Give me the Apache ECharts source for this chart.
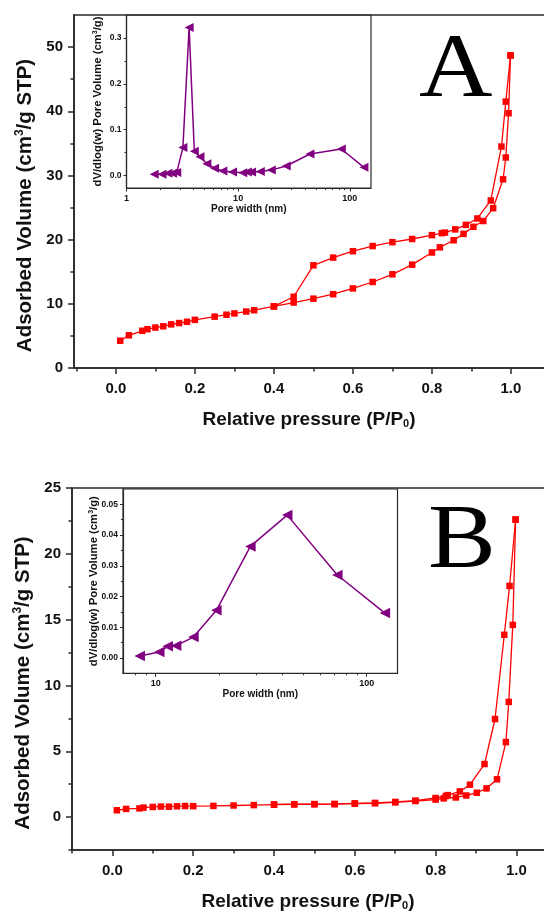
<!DOCTYPE html>
<html><head><meta charset="utf-8">
<script src="https://cdn.jsdelivr.net/npm/echarts@6/dist/echarts.min.js"></script>
<style>html,body{margin:0;padding:0;background:#fff}#c{width:544px;height:915px}</style>
</head><body><div id="c"></div>
<script>
// ---------- Data ----------
// Panel A: N2 isotherm
const pA_ads = [0.011,0.033,0.067,0.08,0.10,0.12,0.14,0.16,0.18,0.20,0.25,0.28,0.30,0.33,0.35,0.40,0.45,0.50,0.55,0.60,0.65,0.70,0.75,0.80,0.82,0.855,0.88,0.905,0.93,0.955,0.98,0.987,0.994,0.999];
const vA_ads = [4.25,5.1,5.8,6.05,6.3,6.5,6.8,7.0,7.2,7.5,8.0,8.3,8.5,8.8,9.0,9.6,10.2,10.8,11.5,12.4,13.4,14.6,16.1,18.0,18.8,19.9,20.9,22.0,22.9,24.9,29.4,32.8,39.7,48.7];
const pA_des = [0.999,0.987,0.976,0.949,0.915,0.886,0.859,0.833,0.825,0.80,0.75,0.70,0.65,0.60,0.55,0.50,0.45,0.40];
const vA_des = [48.7,41.5,34.5,26.1,23.3,22.3,21.6,21.1,21.0,20.7,20.1,19.6,19.0,18.2,17.2,16.0,11.1,9.6];
// Panel A inset: pore size distribution
const wA = [1.77,2.08,2.35,2.58,2.82,3.2,3.64,4.05,4.55,5.25,6.15,7.3,8.9,11.0,12.1,13.2,15.8,19.8,27.0,44.0,84.0,134.0];
const dA = [0.003,0.003,0.005,0.005,0.007,0.061,0.323,0.053,0.041,0.026,0.016,0.010,0.008,0.006,0.008,0.008,0.009,0.012,0.021,0.047,0.058,0.018];
// Panel B: N2 isotherm
const pB_ads = [0.011,0.034,0.067,0.077,0.10,0.12,0.14,0.16,0.18,0.20,0.25,0.30,0.35,0.40,0.45,0.50,0.55,0.60,0.65,0.70,0.75,0.80,0.82,0.85,0.876,0.902,0.926,0.952,0.974,0.981,0.991,0.998];
const vB_ads = [0.52,0.62,0.66,0.72,0.77,0.80,0.79,0.82,0.84,0.83,0.85,0.88,0.91,0.94,0.96,0.97,0.98,1.02,1.05,1.12,1.22,1.33,1.42,1.49,1.64,1.85,2.18,2.87,5.7,8.75,14.6,22.6];
const pB_des = [0.998,0.983,0.970,0.947,0.921,0.885,0.86,0.83,0.825,0.80,0.75,0.70,0.65,0.60,0.55,0.50,0.45,0.40];
const vB_des = [22.6,17.56,13.85,7.45,4.03,2.46,1.95,1.67,1.6,1.45,1.25,1.15,1.08,1.04,1.0,0.99,0.98,0.96];
// Panel B inset: pore size distribution
const wB = [8.4,10.4,11.4,12.5,15.1,19.4,28.1,42.0,72.6,122.0];
const dB = [0.0006,0.0019,0.0038,0.0040,0.0068,0.0155,0.0363,0.0465,0.0270,0.0146];

// ---------- Tick values ----------
const xTickLabels = [0,0.2,0.4,0.6,0.8,1.0];
const xMinorTicks = [-0.1,0.1,0.3,0.5,0.7,0.9,1.1];
const yTicksA = [0,10,20,30,40,50];
const yMinorA = [5,15,25,35,45];
const yTicksB = [0,5,10,15,20,25];
const yMinorB = [-2.5,2.5,7.5,12.5,17.5,22.5];
const yTicksInsetA = [0,0.1,0.2,0.3];
const yMinorInsetA = [0.05,0.15,0.25];
const yTicksInsetB = [0,0.01,0.02,0.03,0.04,0.05];
const yMinorInsetB = [0.005,0.015,0.025,0.035,0.045];
const logMinorA = [2,3,4,5,6,7,8,9,20,30,40,50,60,70,80,90];
const logMinorB = [8,9,20,30,40,50,60,70,80,90];

const FONT = '"Liberation Sans", Arial, Helvetica, sans-serif';
const SERIF = '"Liberation Serif", "Times New Roman", serif';
const AX = '#2a2a2a';
const TXT = '#111';
const RED = '#ff0000';
const PURPLE = '#800080';
const zip = (a,b) => a.map((v,i)=>[v,b[i]]);

function grid(left, top, width, height, bw){
  return {left, top, width, height, show:true, borderColor:AX, borderWidth:bw,
    backgroundColor:'rgba(0,0,0,0)', containLabel:false, outerBoundsMode:'none'};
}

function mainX(gi, min, max){
  return [{
    type:'value', gridIndex:gi, min, max, position:'bottom',
    axisLine:{show:true, onZero:false, lineStyle:{color:AX, width:1.6}},
    axisTick:{show:true, inside:false, length:6, customValues:xTickLabels, lineStyle:{color:AX, width:1.5}},
    axisLabel:{customValues:xTickLabels, formatter:v=>Number(v).toFixed(1), fontFamily:FONT, fontWeight:'bold', fontSize:15, color:TXT, margin:13},
    splitLine:{show:false},
    name:'{a|Relative pressure (P/P}{s|0}{a|)}', nameLocation:'middle', nameGap:42,
    nameTextStyle:{padding:[0,10,0,0], rich:{
      a:{fontFamily:FONT, fontWeight:'bold', fontSize:19, color:TXT, lineHeight:19, verticalAlign:'top'},
      s:{fontFamily:FONT, fontWeight:'bold', fontSize:11, color:TXT, lineHeight:11, padding:[14,0,0,0], verticalAlign:'bottom'}
    }}
  },{
    type:'value', gridIndex:gi, min, max, position:'bottom',
    axisLine:{show:false, onZero:false}, axisLabel:{show:false}, splitLine:{show:false},
    axisTick:{show:true, inside:false, length:3.5, customValues:xMinorTicks, lineStyle:{color:AX, width:1.5}}
  }];
}
function mainY(gi, min, max, ticks, minor){
  return [{
    type:'value', gridIndex:gi, min, max, position:'left',
    axisLine:{show:true, onZero:false, lineStyle:{color:AX, width:1.6}},
    axisTick:{show:true, inside:false, length:6, customValues:ticks, lineStyle:{color:AX, width:1.5}},
    axisLabel:{customValues:ticks, fontFamily:FONT, fontWeight:'bold', fontSize:15, color:TXT, margin:11},
    splitLine:{show:false},
    name:'{a|Adsorbed Volume (cm}{s|3}{a|/g STP)}', nameLocation:'middle', nameGap:36,
    nameTextStyle:{padding:[0,28,0,0], rich:{
      a:{fontFamily:FONT, fontWeight:'bold', fontSize:20.5, color:TXT, lineHeight:22, verticalAlign:'bottom'},
      s:{fontFamily:FONT, fontWeight:'bold', fontSize:12, color:TXT, lineHeight:12, padding:[0,0,10,0], verticalAlign:'bottom'}
    }}
  },{
    type:'value', gridIndex:gi, min, max, position:'left',
    axisLine:{show:false, onZero:false}, axisLabel:{show:false}, splitLine:{show:false},
    axisTick:{show:true, inside:false, length:3.5, customValues:minor, lineStyle:{color:AX, width:1.5}}
  }];
}
function insetX(gi, min, max, minor){
  return [{
    type:'log', logBase:10, gridIndex:gi, min, max, position:'bottom',
    axisLine:{show:true, onZero:false, lineStyle:{color:AX, width:1.2}},
    axisTick:{show:true, inside:false, length:3.5, lineStyle:{color:AX, width:1}},
    axisLabel:{fontFamily:FONT, fontWeight:'bold', fontSize:9, color:TXT, margin:6, showMinLabel: min===1, showMaxLabel:false},
    splitLine:{show:false}, minorTick:{show:false},
    name:'Pore width (nm)', nameLocation:'middle', nameGap:16, nameMoveOverlap:false,
    nameTextStyle:{fontFamily:FONT, fontWeight:'bold', fontSize:10, color:TXT}
  },{
    type:'log', logBase:10, gridIndex:gi, min, max, position:'bottom',
    axisLine:{show:false, onZero:false}, axisLabel:{show:false}, splitLine:{show:false},
    axisTick:{show:true, inside:false, length:2, customValues:minor, lineStyle:{color:AX, width:1}}
  }];
}
function insetY(gi, min, max, ticks, minor, dec, gap){
  return [{
    type:'value', gridIndex:gi, min, max, position:'left',
    axisLine:{show:true, onZero:false, lineStyle:{color:AX, width:1.2}},
    axisTick:{show:true, inside:false, length:3, customValues:ticks, lineStyle:{color:AX, width:1}},
    axisLabel:{customValues:ticks, formatter:v=>Number(v).toFixed(dec), fontFamily:FONT, fontWeight:'bold', fontSize:8.5, color:TXT, margin:5},
    splitLine:{show:false},
    name:'{a|dV/dlog(w) Pore Volume (cm}{s|3}{a|/g)}', nameLocation:'middle', nameGap:gap, nameMoveOverlap:false,
    nameTextStyle:{rich:{
      a:{fontFamily:FONT, fontWeight:'bold', fontSize:11.3, color:TXT, lineHeight:12, verticalAlign:'bottom'},
      s:{fontFamily:FONT, fontWeight:'bold', fontSize:7, color:TXT, lineHeight:7, padding:[0,0,5,0], verticalAlign:'bottom'}
    }}
  },{
    type:'value', gridIndex:gi, min, max, position:'left',
    axisLine:{show:false, onZero:false}, axisLabel:{show:false}, splitLine:{show:false},
    axisTick:{show:true, inside:false, length:2, customValues:minor, lineStyle:{color:AX, width:1}}
  }];
}

const xAxis = [].concat(mainX(0,-0.106,1.109), insetX(1,1,155,logMinorA), mainX(2,-0.1,1.093), insetX(3,7,140,logMinorB));
const yAxis = [].concat(mainY(0,0,55,yTicksA,yMinorA),
                        insetY(1,-0.027,0.35,yTicksInsetA,yMinorInsetA,1,23),
                        mainY(2,-2.5,25,yTicksB,yMinorB),
                        insetY(3,-0.005,0.055,yTicksInsetB,yMinorInsetB,2,23.5));

function iso(xi, yi, p, v){
  return {type:'line', xAxisIndex:xi, yAxisIndex:yi, data:zip(p,v), symbol:'rect', symbolSize:6.5,
    lineStyle:{color:RED, width:1.3}, itemStyle:{color:RED}, animation:false, z:3};
}
function psd(xi, yi, w, d, size){
  return {type:'line', xAxisIndex:xi, yAxisIndex:yi, data:zip(w,d), symbol:'triangle', symbolRotate:90, symbolSize:size,
    lineStyle:{color:PURPLE, width:1.5}, itemStyle:{color:PURPLE}, animation:false, z:3};
}

const chart = echarts.init(document.getElementById('c'), null, {renderer:'canvas'});
chart.setOption({
  backgroundColor:'#fff',
  animation:false,
  grid:[grid(74,15,480,353,1.6), grid(126.5,15,244.5,173,1.2), grid(72,488,482,362,1.6), grid(123,489,274.5,184.3,1.2)],
  xAxis, yAxis,
  series:[
    iso(0,0,pA_ads,vA_ads), iso(0,0,pA_des,vA_des),
    psd(2,2,wA,dA,9),
    iso(4,4,pB_ads,vB_ads), iso(4,4,pB_des,vB_des),
    psd(6,6,wB,dB,10.5)
  ],
  graphic:[
    {type:'text', x:419, y:27, scaleX:1.13, scaleY:1, style:{text:'A', font:'90px ' + SERIF, fill:'#000'}},
    {type:'text', x:428, y:498, scaleX:1.13, scaleY:1, style:{text:'B', font:'90px ' + SERIF, fill:'#000'}}
  ]
});
</script></body></html>
